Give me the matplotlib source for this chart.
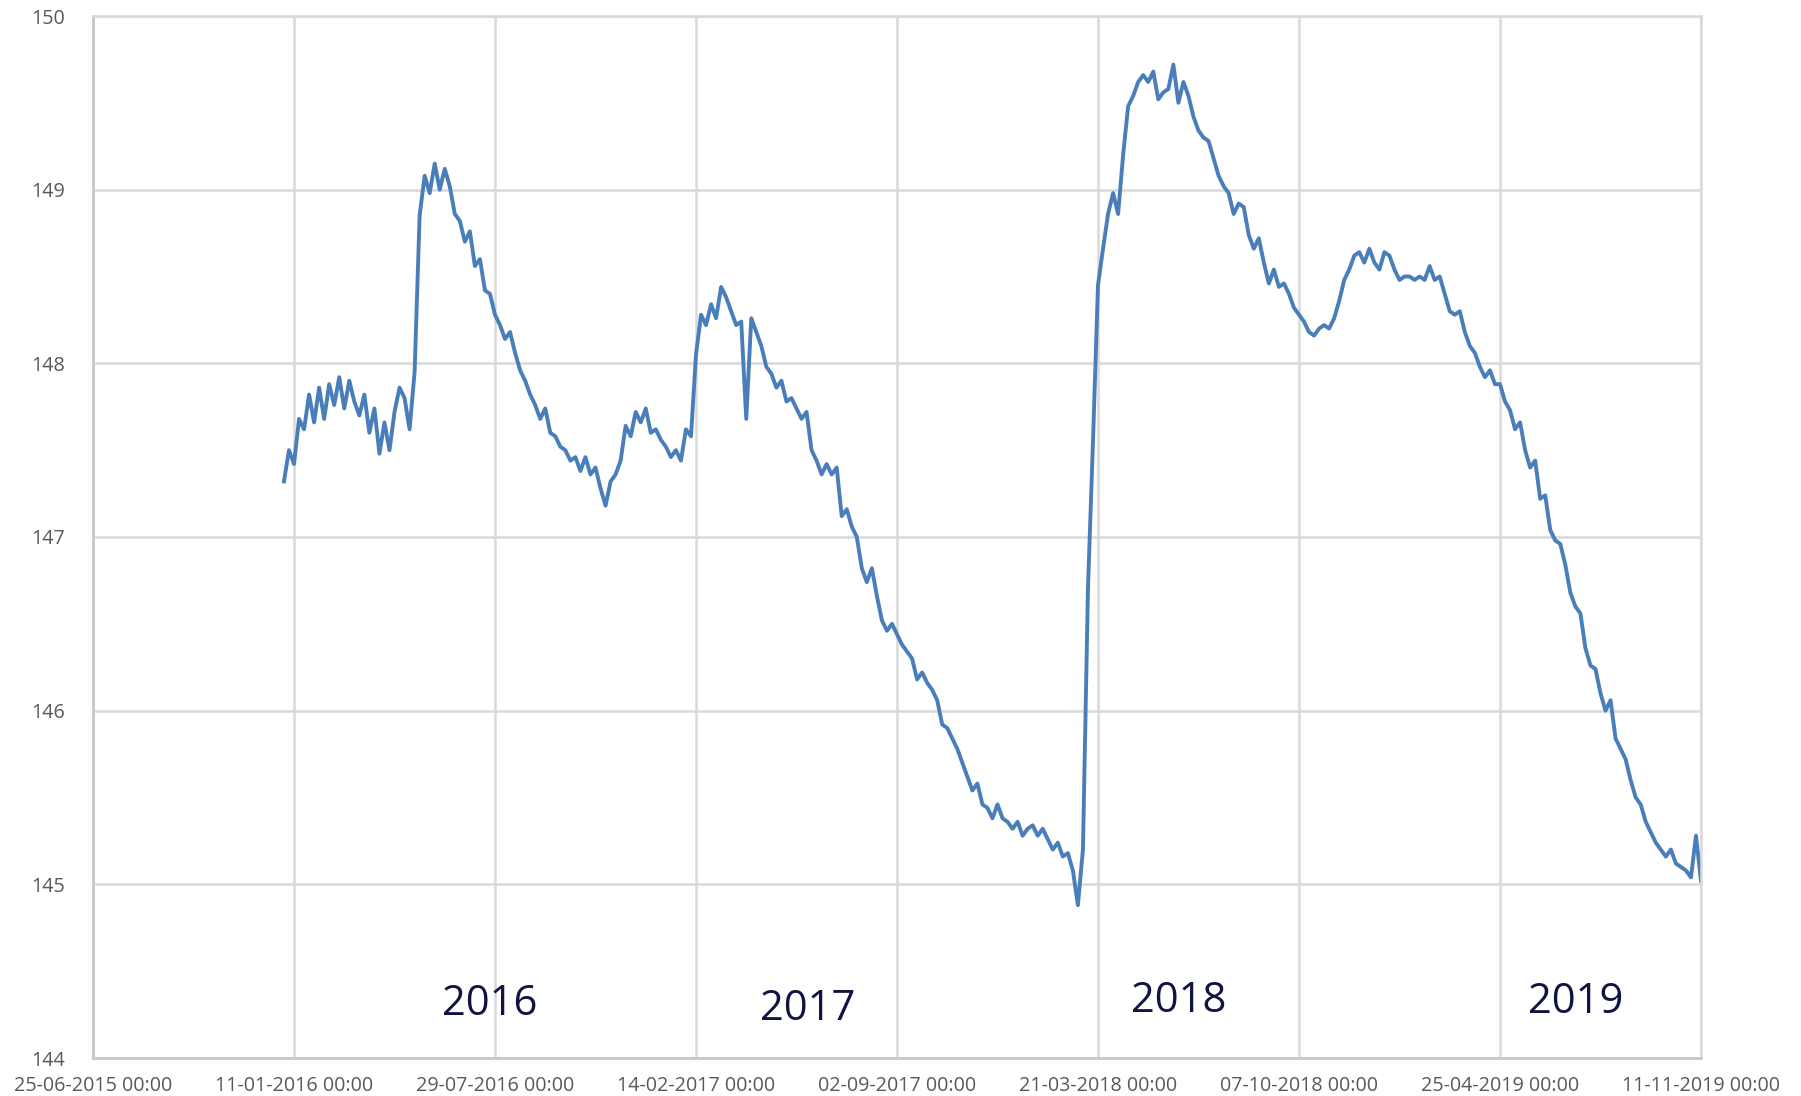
import numpy as np
import pandas as pd
import matplotlib
matplotlib.use("Agg")
import matplotlib.pyplot as plt
import matplotlib.dates as mdates

# ---------------- data ----------------
start_date = "2016-01-01"   # first sample, then one sample every 5 days
values = [
    147.32, 147.50, 147.42, 147.68, 147.62, 147.82, 147.66, 147.86, 147.68, 147.88,
    147.76, 147.92, 147.74, 147.90, 147.78, 147.70, 147.82, 147.60, 147.74, 147.48,
    147.66, 147.50, 147.72, 147.86, 147.80, 147.62, 147.95, 148.85, 149.08, 148.98,
    149.15, 149.00, 149.12, 149.02, 148.86, 148.82, 148.70, 148.76, 148.56, 148.60,
    148.42, 148.40, 148.28, 148.22, 148.14, 148.18, 148.06, 147.96, 147.90, 147.82,
    147.76, 147.68, 147.74, 147.60, 147.58, 147.52, 147.50, 147.44, 147.46, 147.38,
    147.46, 147.36, 147.40, 147.28, 147.18, 147.32, 147.36, 147.44, 147.64, 147.58,
    147.72, 147.66, 147.74, 147.60, 147.62, 147.56, 147.52, 147.46, 147.50, 147.44,
    147.62, 147.58, 148.05, 148.28, 148.22, 148.34, 148.26, 148.44, 148.38, 148.30,
    148.22, 148.24, 147.68, 148.26, 148.18, 148.10, 147.98, 147.94, 147.86, 147.90,
    147.78, 147.80, 147.74, 147.68, 147.72, 147.50, 147.44, 147.36, 147.42, 147.36,
    147.40, 147.12, 147.16, 147.06, 147.00, 146.82, 146.74, 146.82, 146.66, 146.52,
    146.46, 146.50, 146.44, 146.38, 146.34, 146.30, 146.18, 146.22, 146.16, 146.12,
    146.06, 145.92, 145.90, 145.84, 145.78, 145.70, 145.62, 145.54, 145.58, 145.46,
    145.44, 145.38, 145.46, 145.38, 145.36, 145.32, 145.36, 145.28, 145.32, 145.34,
    145.28, 145.32, 145.26, 145.20, 145.24, 145.16, 145.18, 145.08, 144.88, 145.20,
    146.70, 147.55, 148.45, 148.66, 148.86, 148.98, 148.86, 149.20, 149.48, 149.54,
    149.62, 149.66, 149.62, 149.68, 149.52, 149.56, 149.58, 149.72, 149.50, 149.62,
    149.54, 149.42, 149.34, 149.30, 149.28, 149.18, 149.08, 149.02, 148.98, 148.86,
    148.92, 148.90, 148.74, 148.66, 148.72, 148.58, 148.46, 148.54, 148.44, 148.46,
    148.40, 148.32, 148.28, 148.24, 148.18, 148.16, 148.20, 148.22, 148.20, 148.26,
    148.36, 148.48, 148.54, 148.62, 148.64, 148.58, 148.66, 148.58, 148.54, 148.64,
    148.62, 148.54, 148.48, 148.50, 148.50, 148.48, 148.50, 148.48, 148.56, 148.48,
    148.50, 148.40, 148.30, 148.28, 148.30, 148.18, 148.10, 148.06, 147.98, 147.92,
    147.96, 147.88, 147.88, 147.78, 147.73, 147.62, 147.66, 147.50, 147.40, 147.44,
    147.22, 147.24, 147.04, 146.98, 146.96, 146.84, 146.68, 146.60, 146.56, 146.36,
    146.26, 146.24, 146.10, 146.00, 146.06, 145.84, 145.78, 145.72, 145.60, 145.50,
    145.46, 145.36, 145.30, 145.24, 145.20, 145.16, 145.20, 145.12, 145.10, 145.08,
    145.04, 145.28, 145.02,
]
tick_dates = ["2015-06-25", "2016-01-11", "2016-07-29", "2017-02-14", "2017-09-02",
              "2018-03-21", "2018-10-07", "2019-04-25", "2019-11-11"]
y_ticks = [144, 145, 146, 147, 148, 149, 150]
year_labels = ["2016", "2017", "2018", "2019"]
year_label_dates = ["2016-07-24", "2017-06-05", "2018-06-09", "2019-07-09"]

# ---------------- plot ----------------
dates = pd.date_range(start_date, periods=len(values), freq="5D")
ticks = pd.to_datetime(tick_dates)

fig = plt.figure(figsize=(18.01, 10.96), dpi=100)
ax = fig.add_axes([93 / 1801, 1 - 1058 / 1096, (1701 - 93) / 1801, (1058 - 16) / 1096])

ax.plot(dates, values, color="#4a7ebb", lw=2.8, solid_joinstyle="round")

ax.set_xlim(ticks[0], ticks[-1])
ax.set_ylim(144, 150)
ax.set_xticks(ticks)
ax.set_xticklabels([d.strftime("%d-%m-%Y %H:%M") for d in ticks])
ax.set_yticks(y_ticks)

grid_c = "#d9d9d9"
ax.grid(True, color=grid_c, lw=1.8)
ax.set_axisbelow(True)
for s in ["top", "right"]:
    ax.spines[s].set_color(grid_c)
    ax.spines[s].set_linewidth(1.8)
for s in ["left", "bottom"]:
    ax.spines[s].set_color("#c8c8c8")
    ax.spines[s].set_linewidth(2.0)

ax.tick_params(axis="both", length=0, labelcolor="#595959")
ax.tick_params(axis="x", pad=13)
ax.tick_params(axis="y", pad=20)
for lab in ax.get_xticklabels() + ax.get_yticklabels():
    lab.set_fontfamily(["Open Sans", "DejaVu Sans"])
    lab.set_fontsize(14.2)

year_y = [144.31, 144.28, 144.33, 144.32]
for lab, d, yy in zip(year_labels, year_label_dates, year_y):
    ax.text(pd.Timestamp(d), yy, lab, ha="center", va="center",
            fontsize=30, color="#0f1440", family=["Open Sans", "DejaVu Sans"])

fig.savefig("out.png", dpi=100)
